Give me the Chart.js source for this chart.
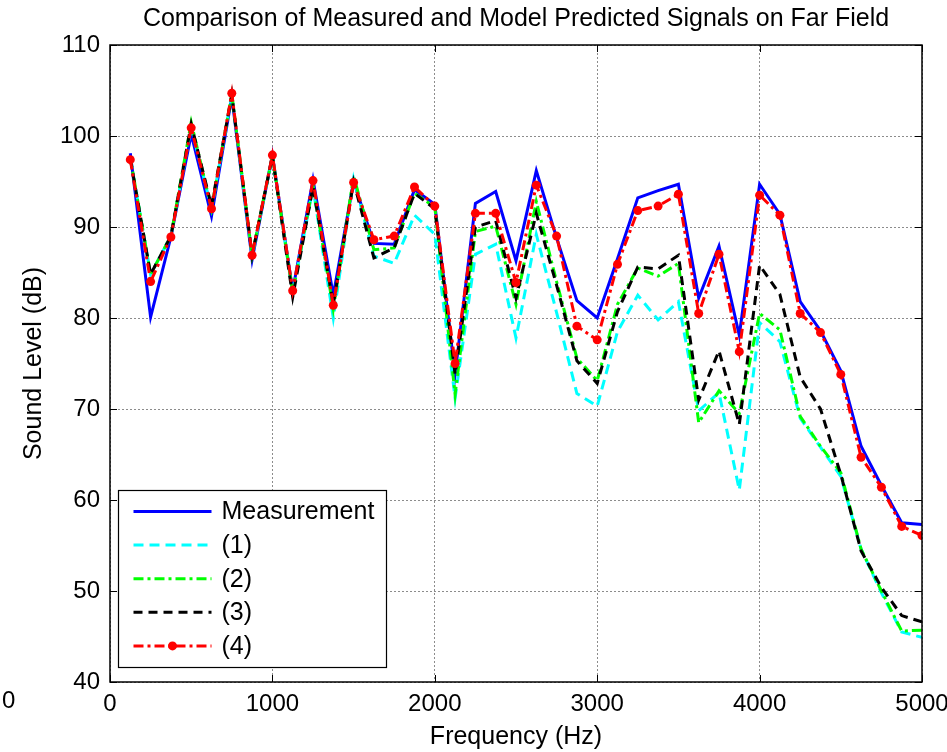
<!DOCTYPE html>
<html>
<head>
<meta charset="utf-8">
<title>Comparison of Measured and Model Predicted Signals on Far Field</title>
<script src="https://cdn.jsdelivr.net/npm/chart.js@4.4.1/dist/chart.umd.min.js"></script>
<style>
  html, body { margin: 0; padding: 0; background: #fff; }
  #wrap { position: relative; width: 947px; height: 752px; }
</style>
</head>
<body>
<div id="wrap"><canvas id="chart"></canvas></div>
<script>
// frequency bins (Hz)
const freqHz = [125, 250, 375, 500, 625, 750, 875, 1000, 1125, 1250,
  1375, 1500, 1625, 1750, 1875, 2000, 2125, 2250, 2375, 2500,
  2625, 2750, 2875, 3000, 3125, 3250, 3375, 3500, 3625, 3750,
  3875, 4000, 4125, 4250, 4375, 4500, 4625, 4750, 4875, 5000];

// sound levels (dB)
const measurement = [98.1, 80.1, 88.9, 100.2, 91.2, 104.3, 86.4, 97.9, 83.0, 95.2,
  82.5, 95.0, 88.2, 88.1, 94.1, 92.5, 73.8, 92.6, 93.9, 86.3,
  96.2, 88.8, 81.9, 80.0, 86.5, 93.2, 94.0, 94.7, 82.2, 87.9,
  78.1, 94.7, 91.4, 81.8, 78.6, 74.2, 65.9, 61.6, 57.5, 57.3];
const model1 = [97.6, 84.8, 89.0, 101.0, 92.0, 104.5, 86.8, 97.7, 82.7, 94.3,
  80.0, 95.3, 86.8, 86.0, 91.3, 89.2, 71.2, 87.0, 88.1, 77.8,
  89.2, 80.6, 71.7, 70.3, 78.5, 82.5, 79.8, 81.8, 69.8, 71.8,
  61.1, 79.5, 77.4, 69.0, 65.8, 62.6, 54.6, 49.8, 45.5, 44.9];
const model2 = [97.6, 84.8, 89.0, 101.5, 92.0, 104.6, 86.9, 97.8, 82.8, 94.5,
  81.0, 95.6, 87.5, 87.7, 93.7, 92.2, 71.6, 89.5, 90.1, 81.5,
  92.8, 84.0, 75.6, 73.1, 81.5, 85.5, 84.6, 86.0, 68.5, 72.0,
  69.5, 80.5, 78.7, 69.2, 65.9, 63.0, 54.6, 50.0, 45.6, 45.7];
const model3 = [97.5, 84.8, 89.0, 101.3, 92.3, 104.5, 86.9, 97.8, 82.3, 94.4,
  81.5, 95.0, 86.6, 87.7, 93.7, 92.0, 73.8, 90.0, 90.7, 82.2,
  91.5, 83.6, 75.3, 72.8, 80.7, 85.6, 85.4, 86.9, 71.0, 76.4,
  68.3, 85.8, 82.6, 73.5, 70.0, 62.8, 54.4, 50.4, 47.3, 46.6];
const model4 = [97.4, 84.0, 88.9, 100.9, 92.0, 104.7, 86.9, 97.9, 83.0, 95.1,
  81.4, 94.9, 88.6, 89.0, 94.4, 92.3, 75.0, 91.5, 91.5, 83.9,
  94.6, 89.0, 79.1, 77.6, 85.9, 91.8, 92.3, 93.6, 80.5, 87.0,
  76.3, 93.5, 91.3, 80.5, 78.4, 73.8, 64.7, 61.4, 57.1, 56.1];

const seriesNames = ['Measurement', '(1)', '(2)', '(3)', '(4)'];
const xTickValues = [0, 1000, 2000, 3000, 4000, 5000];
const yTickValues = [40, 50, 60, 70, 80, 90, 100, 110];
const chartTitle = 'Comparison of Measured and Model Predicted Signals on Far Field';

const FONT = "'Liberation Sans', Arial, Helvetica, sans-serif";

function pts(values) {
  return freqHz.map((f, i) => ({ x: f, y: values[i] }));
}

// title over the axes, box, inward ticks, stray label at left
const framePlugin = {
  id: 'frame',
  afterDraw(chart) {
    const { ctx, chartArea: a, scales } = chart;
    ctx.save();
    ctx.strokeStyle = '#000';
    ctx.lineWidth = 1;
    ctx.beginPath();
    xTickValues.forEach(v => {
      const px = Math.round(scales.x.getPixelForValue(v)) + 0.5;
      ctx.moveTo(px, a.bottom); ctx.lineTo(px, a.bottom - 7);
      ctx.moveTo(px, a.top); ctx.lineTo(px, a.top + 7);
    });
    yTickValues.forEach(v => {
      const py = Math.round(scales.y.getPixelForValue(v)) + 0.5;
      ctx.moveTo(a.left, py); ctx.lineTo(a.left + 7, py);
      ctx.moveTo(a.right, py); ctx.lineTo(a.right - 7, py);
    });
    ctx.stroke();
    ctx.lineWidth = 1.5;
    ctx.strokeRect(a.left, a.top, a.right - a.left, a.bottom - a.top);

    ctx.fillStyle = '#000';
    ctx.textBaseline = 'middle';
    ctx.font = '25px ' + FONT;
    ctx.textAlign = 'center';
    ctx.fillText(chartTitle, (a.left + a.right) / 2, 19);
    ctx.font = '24px ' + FONT;
    ctx.textAlign = 'left';
    ctx.fillText('0', 2, 701);
    ctx.restore();
  }
};

// legend box in the lower left of the axes
const legendPlugin = {
  id: 'boxLegend',
  afterDraw(chart) {
    const { ctx, chartArea: a } = chart;
    const bx = a.left + 8.5, by = 490.5, bw = 268, bh = 177;
    ctx.save();
    ctx.fillStyle = '#fff';
    ctx.fillRect(bx, by, bw, bh);
    ctx.strokeStyle = '#000';
    ctx.lineWidth = 1.2;
    ctx.strokeRect(bx, by, bw, bh);
    ctx.font = '25px ' + FONT;
    ctx.textBaseline = 'middle';
    chart.data.datasets.forEach((ds, i) => {
      const y = by + 21 + i * 33.6;
      ctx.save();
      ctx.strokeStyle = ds.borderColor;
      ctx.lineWidth = ds.borderWidth;
      ctx.setLineDash(ds.borderDash || []);
      ctx.beginPath();
      ctx.moveTo(bx + 15, y);
      ctx.lineTo(bx + 93, y);
      ctx.stroke();
      ctx.restore();
      if (ds.pointRadius > 0) {
        ctx.fillStyle = ds.pointBackgroundColor;
        ctx.beginPath();
        ctx.arc(bx + 54, y, ds.pointRadius, 0, Math.PI * 2);
        ctx.fill();
      }
      ctx.fillStyle = '#000';
      ctx.fillText(ds.label, bx + 103, y + 1);
    });
    ctx.restore();
  }
};

new Chart(document.getElementById('chart'), {
  type: 'line',
  data: {
    datasets: [
      { label: seriesNames[0], data: pts(measurement), borderColor: '#0000ff', borderWidth: 3,
        borderDash: [], pointRadius: 0, order: 4 },
      { label: seriesNames[1], data: pts(model1), borderColor: '#00ffff', borderWidth: 3,
        borderDash: [10, 6], pointRadius: 0, order: 3 },
      { label: seriesNames[2], data: pts(model2), borderColor: '#00ff00', borderWidth: 3,
        borderDash: [10, 4, 3, 4], pointRadius: 0, order: 2 },
      { label: seriesNames[3], data: pts(model3), borderColor: '#000000', borderWidth: 3,
        borderDash: [9, 6], pointRadius: 0, order: 1 },
      { label: seriesNames[4], data: pts(model4), borderColor: '#ff0000', borderWidth: 3,
        borderDash: [10, 4, 3, 4], pointRadius: 4.5, pointBackgroundColor: '#ff0000',
        pointBorderWidth: 0, order: 0 }
    ]
  },
  options: {
    responsive: true,
    maintainAspectRatio: false,
    animation: false,
    devicePixelRatio: 1,
    layout: { padding: { left: 19, right: 0, top: 45, bottom: 0 } },
    elements: { line: { tension: 0, fill: false } },
    plugins: {
      legend: { display: false },
      tooltip: { enabled: false },
      title: { display: false }
    },
    scales: {
      x: {
        type: 'linear',
        min: 0, max: 5000,
        afterBuildTicks: s => { s.ticks = xTickValues.map(v => ({ value: v })); },
        afterFit: s => { s.height = 70; s.paddingRight = 25; s.paddingLeft = 0; },
        grid: { color: 'rgba(0,0,0,0.45)', lineWidth: 1, drawTicks: false },
        border: { display: false, dash: [2, 2] },
        ticks: { color: '#000', padding: 8, maxRotation: 0, autoSkip: false,
          callback: v => String(v),
          font: { family: FONT, size: 24 } },
        title: { display: true, text: 'Frequency (Hz)', color: '#000', padding: { top: 0, bottom: 0 },
          font: { family: FONT, size: 25, lineHeight: 1.2 } }
      },
      y: {
        min: 40, max: 110,
        afterBuildTicks: s => { s.ticks = yTickValues.map(v => ({ value: v })); },
        afterFit: s => { s.width = 91; },
        grid: { color: 'rgba(0,0,0,0.45)', lineWidth: 1, drawTicks: false },
        border: { display: false, dash: [2, 2] },
        ticks: { color: '#000', padding: 10, autoSkip: false,
          callback: v => String(v),
          font: { family: FONT, size: 24 } },
        title: { display: true, text: 'Sound Level (dB)', color: '#000', padding: { top: 0, bottom: 0 },
          font: { family: FONT, size: 25, lineHeight: 1.2 } }
      }
    }
  },
  plugins: [framePlugin, legendPlugin]
});
</script>
</body>
</html>
